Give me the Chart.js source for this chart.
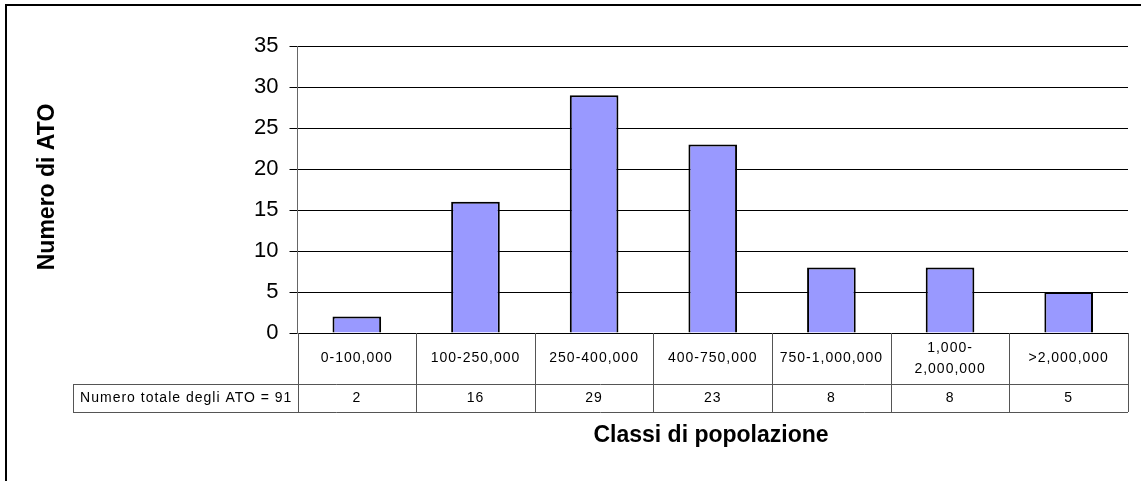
<!DOCTYPE html>
<html>
<head>
<meta charset="utf-8">
<script src="https://cdn.jsdelivr.net/npm/chart.js@4/dist/chart.umd.min.js"></script>
<style>
  body { margin: 0; background: #fff; }
  canvas { display: block; }
</style>
</head>
<body>
<canvas id="myChart" width="1141" height="481"></canvas>
<script>
// data
const classi = ['0-100,000', '100-250,000', '250-400,000', '400-750,000', '750-1,000,000', ['1,000-', '2,000,000'], '>2,000,000'];
const numeroAto = [2, 16, 29, 23, 8, 8, 5];
const totaleLabel = 'Numero totale degli ATO = 91';
const yTitle = 'Numero di ATO';
const xTitle = 'Classi di popolazione';
const yMax = 35;
const yStep = 5;

const FONT = '"Liberation Sans", Arial, sans-serif';

// draws frame, titles and the data table under the axis
const tablePlugin = {
    id: 'tablePlugin',
    afterDraw(chart) {
        const ctx = chart.ctx;
        const x = chart.scales.x;
        const area = chart.chartArea;
        const colW = (area.right - area.left) / classi.length;
        const row1Top = area.bottom;
        const row1Bottom = area.bottom + 51;
        const row2Bottom = row1Bottom + 28;
        const leftCell = 73;

        ctx.save();
        // outer frame
        ctx.strokeStyle = '#000';
        ctx.lineWidth = 2;
        ctx.beginPath();
        ctx.moveTo(6, 490);
        ctx.lineTo(6, 5);
        ctx.lineTo(1145, 5);
        ctx.stroke();

        // table lines
        ctx.strokeStyle = '#555';
        ctx.lineWidth = 1;
        ctx.beginPath();
        for (let i = 0; i <= classi.length; i++) {
            const px = Math.round(x.getPixelForValue(i) - colW / 2) + 0.5;
            ctx.moveTo(px, row1Top);
            ctx.lineTo(px, row2Bottom);
        }
        ctx.moveTo(leftCell + 0.5, row1Bottom);
        ctx.lineTo(leftCell + 0.5, row2Bottom);
        ctx.moveTo(leftCell, Math.round(row1Bottom) + 0.5);
        ctx.lineTo(area.right, Math.round(row1Bottom) + 0.5);
        ctx.moveTo(leftCell, Math.round(row2Bottom) + 0.5);
        ctx.lineTo(area.right, Math.round(row2Bottom) + 0.5);
        ctx.stroke();

        // table text
        ctx.fillStyle = '#000';
        ctx.font = '14px ' + FONT;
        ctx.letterSpacing = '1px';
        ctx.textAlign = 'center';
        ctx.textBaseline = 'middle';
        const mid1 = (row1Top + row1Bottom) / 2;
        const mid2 = (row1Bottom + row2Bottom) / 2;
        classi.forEach((c, i) => {
            const cx = x.getPixelForValue(i);
            if (Array.isArray(c)) {
                ctx.fillText(c[0], cx, mid1 - 10.5);
                ctx.fillText(c[1], cx, mid1 + 10.5);
            } else {
                ctx.fillText(c, cx, mid1);
            }
            ctx.fillText(String(numeroAto[i]), cx, mid2);
        });
        ctx.fillText(totaleLabel, (leftCell + area.left) / 2 + 1, mid2);
        ctx.letterSpacing = '0px';

        // axis titles
        ctx.font = 'bold 23px ' + FONT;
        ctx.fillText(xTitle, 711, 436);
        ctx.translate(48, 187);
        ctx.rotate(-Math.PI / 2);
        ctx.fillText(yTitle, 0, 0);
        ctx.restore();
    }
};

const ctx = document.getElementById('myChart').getContext('2d');
const myChart = new Chart(ctx, {
    type: 'bar',
    data: {
        labels: classi,
        datasets: [{
            label: yTitle,
            data: numeroAto,
            backgroundColor: '#9999ff',
            borderColor: '#000',
            borderWidth: 2,
            categoryPercentage: 1,
            barPercentage: 0.41
        }]
    },
    options: {
        responsive: false,
        animation: false,
        layout: { padding: { left: 0, top: 46, right: 13, bottom: 148 } },
        plugins: {
            legend: { display: false },
            tooltip: { enabled: false }
        },
        scales: {
            x: {
                display: false
            },
            y: {
                min: 0,
                max: yMax,
                afterFit(scale) { scale.width = 297.5; },
                ticks: {
                    stepSize: yStep,
                    padding: 11,
                    color: '#000',
                    font: { family: FONT, size: 22 }
                },
                grid: {
                    color: '#000',
                    lineWidth: 1,
                    tickLength: 8
                },
                border: { color: '#666', width: 1 }
            }
        }
    },
    plugins: [tablePlugin]
});
</script>
</body>
</html>
